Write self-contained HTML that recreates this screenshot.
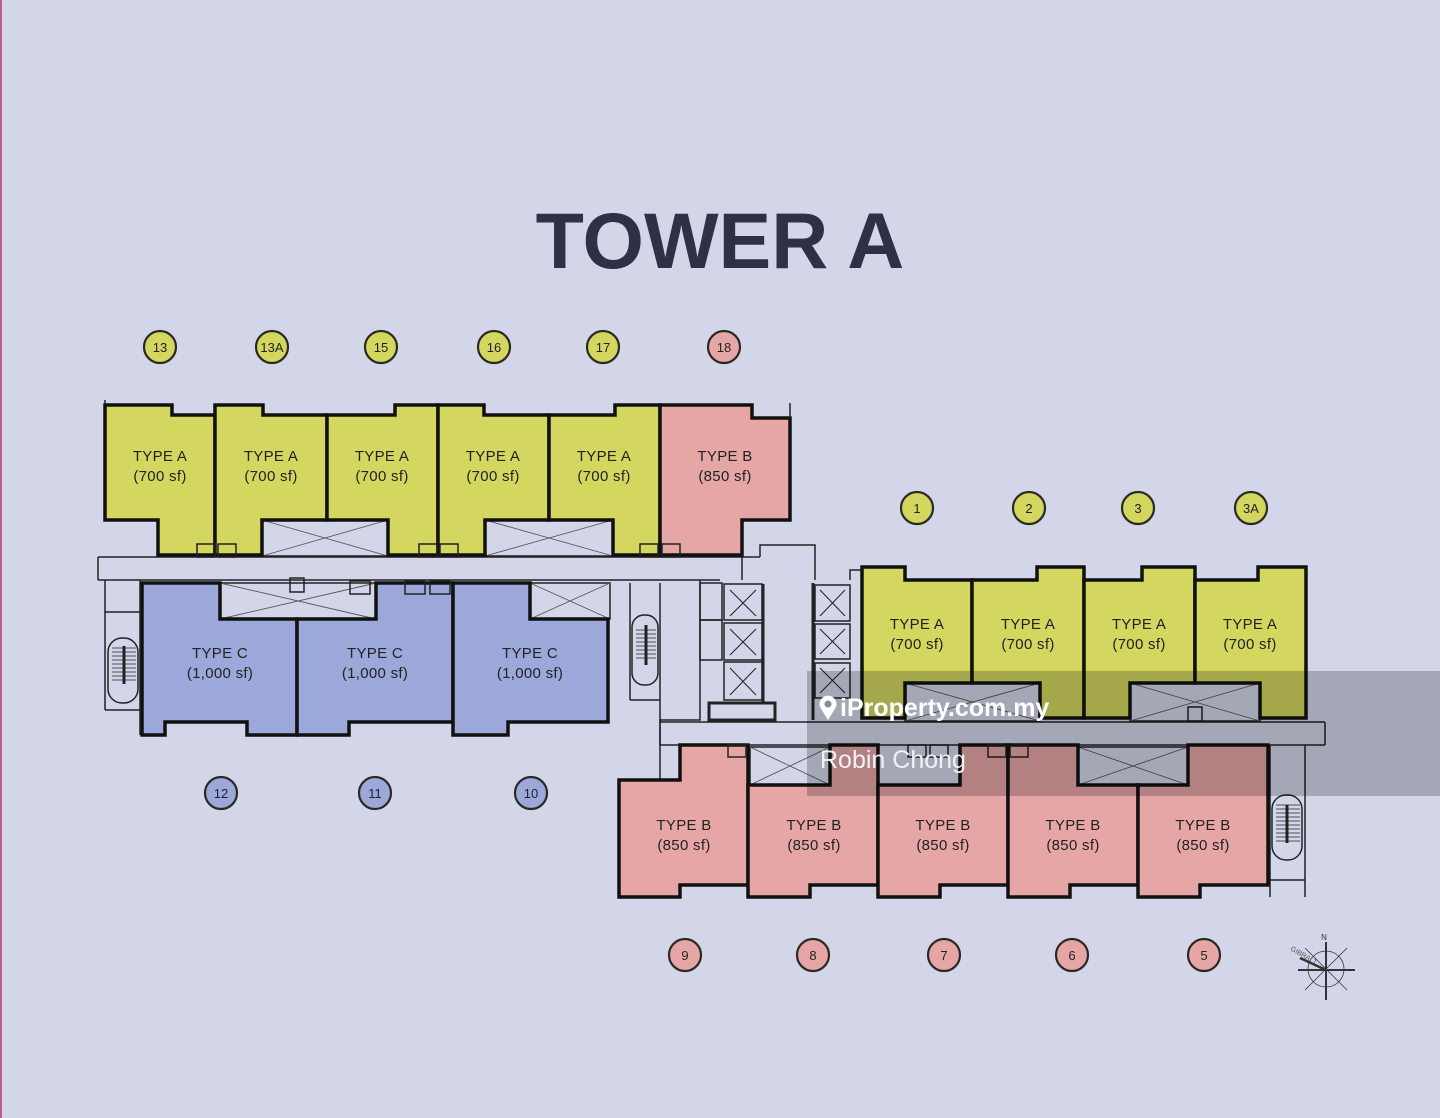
<!DOCTYPE html>
<html><head><meta charset="utf-8"><style>
html,body{margin:0;padding:0;background:#d3d6e9;}
svg{display:block}
text{font-family:"Liberation Sans",sans-serif;}
.u{stroke:#111;stroke-width:3.5;}
.t{font-size:15px;fill:#222;text-anchor:middle;letter-spacing:0.3px}
.c{stroke:#2a2a22;stroke-width:2.2;}
.cn{font-size:13px;fill:#222;text-anchor:middle;}
.w{fill:none;stroke:#222;stroke-width:1.5}
.x{fill:none;stroke:#555;stroke-width:0.9}
</style></head><body>
<svg width="1440" height="1118" viewBox="0 0 1440 1118" xmlns="http://www.w3.org/2000/svg">
<rect width="1440" height="1118" fill="#d3d6e9"/>
<line x1="1" y1="0" x2="1" y2="1118" stroke="#c05a8a" stroke-width="2"/>
<text x="720" y="268" font-size="79" font-weight="bold" fill="#2f3045" text-anchor="middle">TOWER A</text>

<!-- corridors -->
<g class="w">
<line x1="98" y1="557" x2="760" y2="557"/><line x1="98" y1="580" x2="720" y2="580"/>
<line x1="98" y1="557" x2="98" y2="580"/>
<line x1="660" y1="722" x2="1325" y2="722"/><line x1="660" y1="745" x2="1325" y2="745"/>
<line x1="1325" y1="722" x2="1325" y2="745"/>
<path d="M760 557 V545 H815 V580 M742 557 V580 M700 580 V720 H660 V745 M850 580 V570 H862"/>
<path d="M660 745 V780 H680"/>
</g>
<!-- voids -->
<g>
<rect x="262" y="520" width="126" height="36" fill="#d3d6e9" class="w"/>
<path d="M262 520 L388 556 M388 520 L262 556" class="x"/>
<rect x="485" y="520" width="128" height="36" fill="#d3d6e9" class="w"/>
<path d="M485 520 L613 556 M613 520 L485 556" class="x"/>
<rect x="220" y="583" width="156" height="36" fill="#d3d6e9" class="w"/>
<path d="M220 583 L376 619 M376 583 L220 619" class="x"/>
<rect x="530" y="583" width="80" height="36" fill="#d3d6e9" class="w"/>
<path d="M530 583 L610 619 M610 583 L530 619" class="x"/>
<rect x="905" y="683" width="135" height="38" fill="#d3d6e9" class="w"/>
<path d="M905 683 L1040 721 M1040 683 L905 721" class="x"/>
<rect x="1130" y="683" width="130" height="38" fill="#d3d6e9" class="w"/>
<path d="M1130 683 L1260 721 M1260 683 L1130 721" class="x"/>
<rect x="750" y="747" width="80" height="38" fill="#d3d6e9" class="w"/>
<path d="M750 747 L830 785 M830 747 L750 785" class="x"/>
<rect x="1078" y="747" width="110" height="38" fill="#d3d6e9" class="w"/>
<path d="M1078 747 L1188 785 M1188 747 L1078 785" class="x"/>
</g>

<!-- top row units -->
<g class="u">
<polygon fill="#d3d65f" points="105,405 172,405 172,415 215,415 215,555 158,555 158,520 105,520"/>
<polygon fill="#d3d65f" points="215,405 215,555 262,555 262,520 327,520 327,415 263,415 263,405"/>
<polygon fill="#d3d65f" points="327,415 327,520 388,520 388,555 438,555 438,405 395,405 395,415"/>
<polygon fill="#d3d65f" points="438,405 438,555 485,555 485,520 549,520 549,415 484,415 484,405"/>
<polygon fill="#d3d65f" points="549,415 549,520 613,520 613,555 660,555 660,405 615,405 615,415"/>
<polygon fill="#e6a6a6" points="660,405 660,555 742,555 742,520 790,520 790,418 752,418 752,405"/>
</g>
<g class="w" stroke-width="3"><path d="M105 405 V400 M790 418 V403"/></g>

<!-- C units -->
<g class="u">
<polygon fill="#9ba8d9" points="142,583 142,735 165,735 165,722 247,722 247,735 297,735 297,619 220,619 220,583"/>
<polygon fill="#9ba8d9" points="297,619 297,735 349,735 349,722 453,722 453,583 376,583 376,619"/>
<polygon fill="#9ba8d9" points="453,583 453,735 508,735 508,722 608,722 608,619 530,619 530,583"/>
</g>
<g class="w" fill="#d3d6e9">
<rect x="197" y="544" width="18" height="13"/><rect x="218" y="544" width="18" height="13"/>
<rect x="419" y="544" width="18" height="13"/><rect x="440" y="544" width="18" height="13"/>
<rect x="640" y="544" width="18" height="13"/><rect x="662" y="544" width="18" height="13"/>
<rect x="350" y="581" width="20" height="13"/><rect x="405" y="581" width="20" height="13"/><rect x="430" y="581" width="20" height="13"/>
<rect x="290" y="578" width="14" height="14"/>
</g>

<!-- left stair -->
<g class="w">
<path d="M105 580 V710 M140 580 V735 M105 612 H140 M105 710 H140"/>
<rect x="108" y="638" width="30" height="65" rx="14"/>
<path d="M112 648 H136 M112 652 H136 M112 656 H136 M112 660 H136 M112 664 H136 M112 668 H136 M112 672 H136 M112 676 H136 M112 680 H136" stroke-width="0.8"/>
<path d="M124 646 V684" stroke-width="3"/>
</g>
<g class="w">
<path d="M630 583 V700 M660 583 V745 M630 700 H660"/>
<rect x="632" y="615" width="26" height="70" rx="12"/>
<path d="M636 630 H656 M636 634 H656 M636 638 H656 M636 642 H656 M636 646 H656 M636 650 H656 M636 654 H656 M636 658 H656" stroke-width="0.8"/>
<path d="M646 625 V665" stroke-width="3"/>
</g>
<g class="w">
<path d="M1270 745 V897 M1305 745 V897 M1270 880 H1305"/>
<rect x="1272" y="795" width="30" height="65" rx="14"/>
<path d="M1276 805 H1300 M1276 809 H1300 M1276 813 H1300 M1276 817 H1300 M1276 821 H1300 M1276 825 H1300 M1276 829 H1300 M1276 833 H1300 M1276 837 H1300 M1276 841 H1300" stroke-width="0.8"/>
<path d="M1287 805 V843" stroke-width="3"/>
</g>

<!-- lift core -->
<g class="w" stroke-width="2">
<rect x="700" y="583" width="22" height="37"/><rect x="700" y="620" width="22" height="40"/>
<g fill="#d3d6e9">
<rect x="724" y="584" width="38" height="36"/><rect x="724" y="623" width="38" height="37"/><rect x="724" y="662" width="38" height="38"/>
<rect x="815" y="585" width="35" height="36"/><rect x="815" y="624" width="35" height="35"/><rect x="815" y="663" width="35" height="35"/>
</g>
<path d="M730 590 L756 616 M756 590 L730 616 M730 629 L756 655 M756 629 L730 655 M730 668 L756 695 M756 668 L730 695 M820 590 L845 616 M845 590 L820 616 M820 629 L845 654 M845 629 L820 654 M820 668 L845 693 M845 668 L820 693" stroke-width="1"/>
<rect x="709" y="703" width="66" height="17" stroke-width="3"/>
<path d="M763 584 V703 M813 583 V720" stroke-width="3"/>
</g>

<!-- right A units -->
<g class="u">
<polygon fill="#d3d65f" points="862,567 862,718 905,718 905,683 972,683 972,580 905,580 905,567"/>
<polygon fill="#d3d65f" points="972,580 972,683 1040,683 1040,718 1084,718 1084,567 1037,567 1037,580"/>
<polygon fill="#d3d65f" points="1084,580 1084,718 1130,718 1130,683 1195,683 1195,567 1142,567 1142,580"/>
<polygon fill="#d3d65f" points="1195,580 1195,683 1260,683 1260,718 1306,718 1306,567 1258,567 1258,580"/>
</g>
<!-- bottom B units -->
<g class="u">
<polygon fill="#e6a6a6" points="619,780 619,897 680,897 680,885 748,885 748,745 680,745 680,780"/>
<polygon fill="#e6a6a6" points="748,785 748,897 810,897 810,885 878,885 878,745 830,745 830,785"/>
<polygon fill="#e6a6a6" points="878,785 878,897 940,897 940,885 1008,885 1008,745 960,745 960,785"/>
<polygon fill="#e6a6a6" points="1008,785 1008,897 1070,897 1070,885 1138,885 1138,785 1078,785 1078,745 1008,745"/>
<polygon fill="#e6a6a6" points="1138,785 1138,897 1200,897 1200,885 1268,885 1268,745 1188,745 1188,785"/>
</g>
<g class="w" fill="#d3d6e9">
<rect x="728" y="745" width="18" height="12"/><rect x="908" y="745" width="18" height="12"/><rect x="930" y="745" width="18" height="12"/>
<rect x="988" y="745" width="18" height="12"/><rect x="1010" y="745" width="18" height="12"/>
<rect x="1188" y="707" width="14" height="14"/>
</g>

<!-- unit labels -->
<g class="t">
<text x="160" y="461">TYPE A</text><text x="160" y="481">(700 sf)</text>
<text x="271" y="461">TYPE A</text><text x="271" y="481">(700 sf)</text>
<text x="382" y="461">TYPE A</text><text x="382" y="481">(700 sf)</text>
<text x="493" y="461">TYPE A</text><text x="493" y="481">(700 sf)</text>
<text x="604" y="461">TYPE A</text><text x="604" y="481">(700 sf)</text>
<text x="725" y="461">TYPE B</text><text x="725" y="481">(850 sf)</text>
<text x="220" y="658">TYPE C</text><text x="220" y="678">(1,000 sf)</text>
<text x="375" y="658">TYPE C</text><text x="375" y="678">(1,000 sf)</text>
<text x="530" y="658">TYPE C</text><text x="530" y="678">(1,000 sf)</text>
<text x="917" y="629">TYPE A</text><text x="917" y="649">(700 sf)</text>
<text x="1028" y="629">TYPE A</text><text x="1028" y="649">(700 sf)</text>
<text x="1139" y="629">TYPE A</text><text x="1139" y="649">(700 sf)</text>
<text x="1250" y="629">TYPE A</text><text x="1250" y="649">(700 sf)</text>
<text x="684" y="830">TYPE B</text><text x="684" y="850">(850 sf)</text>
<text x="814" y="830">TYPE B</text><text x="814" y="850">(850 sf)</text>
<text x="943" y="830">TYPE B</text><text x="943" y="850">(850 sf)</text>
<text x="1073" y="830">TYPE B</text><text x="1073" y="850">(850 sf)</text>
<text x="1203" y="830">TYPE B</text><text x="1203" y="850">(850 sf)</text>
</g>

<g class="c" fill="#d3d65f">
<circle cx="160" cy="347" r="16"/><circle cx="272" cy="347" r="16"/><circle cx="381" cy="347" r="16"/>
<circle cx="494" cy="347" r="16"/><circle cx="603" cy="347" r="16"/>
<circle cx="917" cy="508" r="16"/><circle cx="1029" cy="508" r="16"/><circle cx="1138" cy="508" r="16"/><circle cx="1251" cy="508" r="16"/>
</g>
<g class="c" fill="#e6a6a6">
<circle cx="724" cy="347" r="16"/>
<circle cx="685" cy="955" r="16"/><circle cx="813" cy="955" r="16"/><circle cx="944" cy="955" r="16"/><circle cx="1072" cy="955" r="16"/><circle cx="1204" cy="955" r="16"/>
</g>
<g class="c" fill="#9ba8d9">
<circle cx="221" cy="793" r="16"/><circle cx="375" cy="793" r="16"/><circle cx="531" cy="793" r="16"/>
</g>
<g class="cn">
<text x="160" y="352">13</text><text x="272" y="352">13A</text><text x="381" y="352">15</text><text x="494" y="352">16</text><text x="603" y="352">17</text><text x="724" y="352">18</text>
<text x="917" y="513">1</text><text x="1029" y="513">2</text><text x="1138" y="513">3</text><text x="1251" y="513">3A</text>
<text x="221" y="798">12</text><text x="375" y="798">11</text><text x="531" y="798">10</text>
<text x="685" y="960">9</text><text x="813" y="960">8</text><text x="944" y="960">7</text><text x="1072" y="960">6</text><text x="1204" y="960">5</text>
</g>

<!-- compass -->
<g stroke="#333" fill="none">
<circle cx="1326" cy="969" r="18" stroke-width="0.8"/>
<line x1="1326" y1="942" x2="1326" y2="1000" stroke-width="2"/>
<line x1="1298" y1="970" x2="1355" y2="970" stroke-width="2"/>
<line x1="1305" y1="948" x2="1347" y2="990" stroke-width="0.8"/>
<line x1="1347" y1="948" x2="1305" y2="990" stroke-width="0.8"/>
<line x1="1300" y1="958" x2="1326" y2="970" stroke-width="2.5"/>
</g>
<text x="1324" y="940" font-size="8" fill="#333" text-anchor="middle">N</text>
<text x="1290" y="950" font-size="7" fill="#555" transform="rotate(30 1290 950)">GIBRALT</text>

<!-- watermark -->
<rect x="807" y="671" width="633" height="125" fill="#000" opacity="0.22"/>
<g fill="#fff">
<path d="M828 720 L820 707 A8.5 8.5 0 1 1 836 707 Z"/>
<circle cx="828" cy="704" r="3.5" fill="#8a8c9a"/>
</g>
<text x="840" y="716" font-size="25" font-weight="bold" fill="#fff">iProperty.com.my</text>
<text x="820" y="768" font-size="25" fill="#f2f2f6">Robin Chong</text>
</svg>
</body></html>
